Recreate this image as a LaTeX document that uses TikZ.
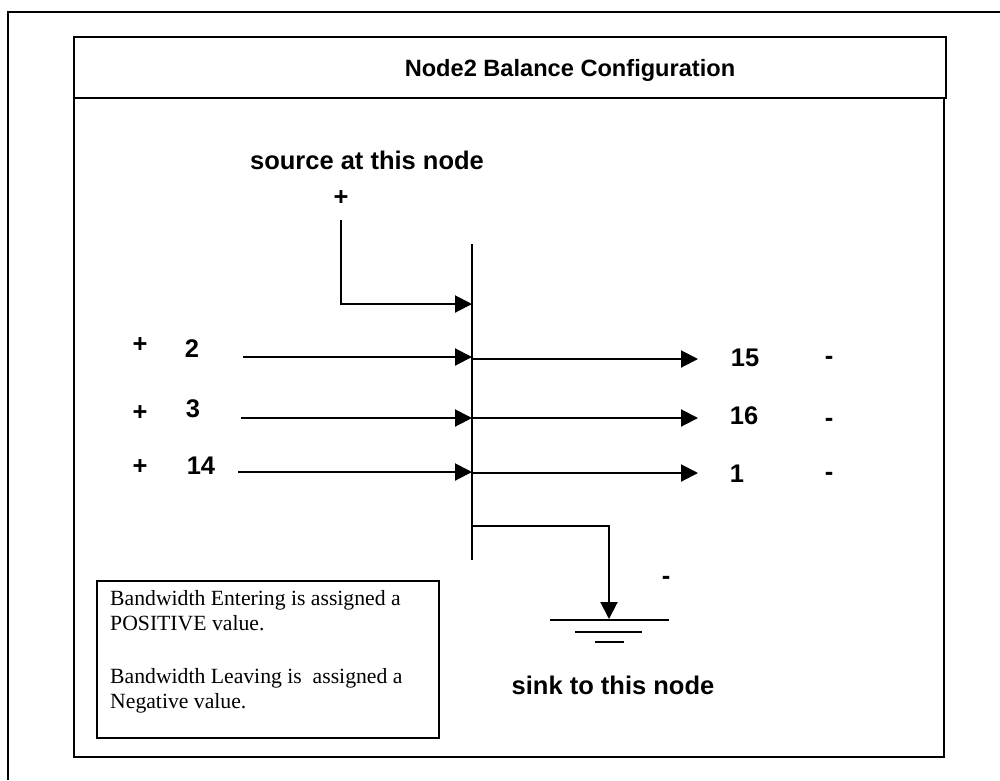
\documentclass[tikz,border=0pt]{standalone}
\usepackage{fontspec}
\setmainfont{Liberation Sans}
\newfontfamily\legendfont{Liberation Serif}
\usetikzlibrary{arrows.meta}
\begin{document}
\begin{tikzpicture}[x=1pt,y=-1pt,
  ln/.style={line width=2pt},
  arr/.style={ln,-{Triangle[length=17pt,width=17pt]}},
  lbl/.style={font=\fontsize{25.5}{30}\selectfont\bfseries, anchor=base, inner sep=0pt},
  titlelbl/.style={font=\fontsize{23.6}{28}\selectfont\bfseries, anchor=base, inner sep=0pt},
  legendtext/.style={font=\legendfont\fontsize{21.7}{25.5}\selectfont, anchor=base west, inner sep=0pt}]
\useasboundingbox (0,0) rectangle (1000,780);
% outer frame
\draw[ln] (8,780) -- (8,12) -- (1000,12);
% title box and main box
\draw[ln] (74,37) rectangle (946,98);
\draw[ln] (74,98) -- (74,757) -- (944,757) -- (944,98);
\node[titlelbl] (title) at (570,76) {Node2 Balance Configuration};
% bus
\coordinate (bustop) at (472,244);
\coordinate (busbot) at (472,560);
\draw[ln] (bustop) -- (busbot);
% source
\node[lbl] (srclabel) at (367,169) {source at this node};
\node[lbl] (srcplus) at (341,205) {+};
\coordinate (src) at (341,220);
\coordinate (srcin) at (472,304);
\draw[arr] (src) |- (srcin);
% inputs
\node[lbl] (p2) at (140,352) {+};
\node[lbl] (p3) at (140,420) {+};
\node[lbl] (p14) at (140,474) {+};
\node[lbl] (n2) at (192,357) {2};
\node[lbl] (n3) at (193,417) {3};
\node[lbl] (n14) at (201,474) {14};
\coordinate (in2) at (243,357);  \coordinate (b2) at (472,357);
\coordinate (in3) at (241,418);  \coordinate (b3) at (472,418);
\coordinate (in14) at (238,472); \coordinate (b14) at (472,472);
\draw[arr] (in2) -- (b2);
\draw[arr] (in3) -- (b3);
\draw[arr] (in14) -- (b14);
% outputs
\coordinate (o15s) at (472,359); \coordinate (o15) at (698,359);
\coordinate (o16s) at (472,418); \coordinate (o16) at (698,418);
\coordinate (o1s) at (472,473);  \coordinate (o1) at (698,473);
\draw[arr] (o15s) -- (o15);
\draw[arr] (o16s) -- (o16);
\draw[arr] (o1s) -- (o1);
\node[lbl] (n15) at (745,366) {15};
\node[lbl] (n16) at (744,424) {16};
\node[lbl] (n1) at (737,482) {1};
\node[lbl] (m15) at (829,364) {-};
\node[lbl] (m16) at (829,426) {-};
\node[lbl] (m1) at (829,480) {-};
% sink
\coordinate (sk) at (472,526);
\coordinate (gnd) at (609,619);
\draw[arr] (sk) -| (gnd);
\draw[ln] (550,620) -- (669,620);
\draw[ln] (575,632) -- (642,632);
\draw[ln] (595,642) -- (624,642);
\node[lbl] (msink) at (666,584) {-};
\node[lbl] (sinklabel) at (613,694) {sink to this node};
% legend
\draw[line width=1.5pt] (97,581) rectangle (439,738);
\node[legendtext] (legend1) at (110,605) {Bandwidth Entering is assigned a};
\node[legendtext] (legend2) at (110,630) {POSITIVE value.};
\node[legendtext] (legend3) at (110,683) {Bandwidth Leaving is\ \ assigned a};
\node[legendtext] (legend4) at (110,708) {Negative value.};
\end{tikzpicture}
\end{document}
